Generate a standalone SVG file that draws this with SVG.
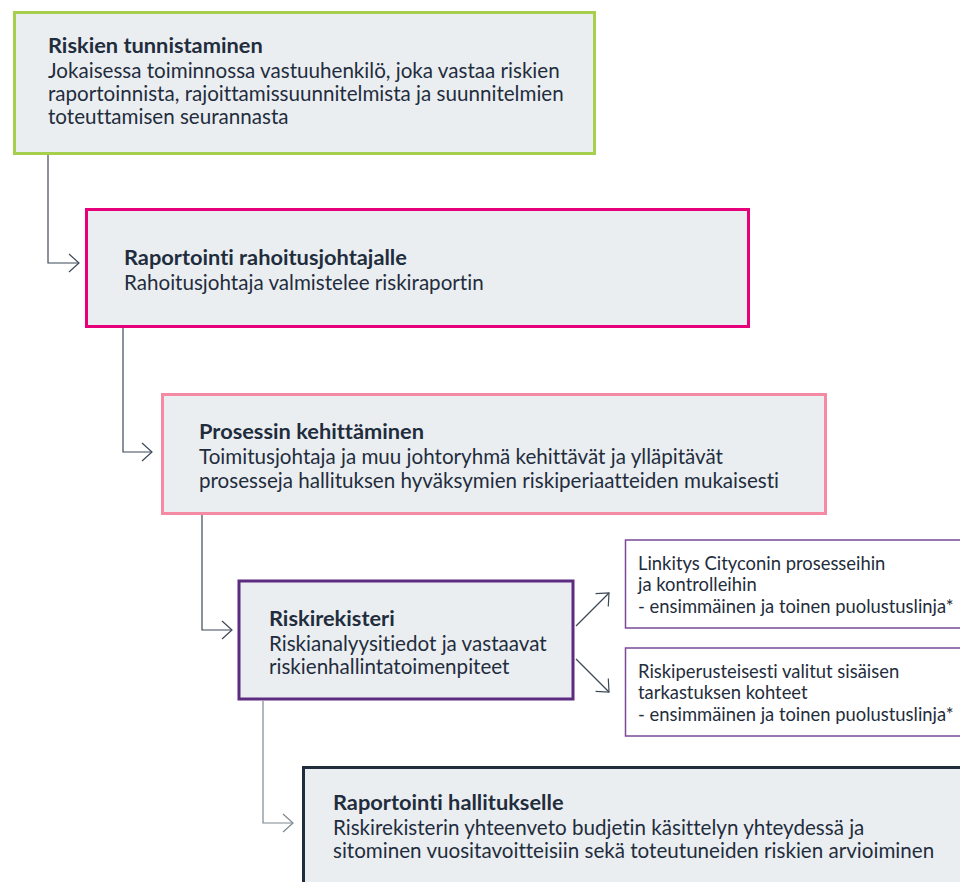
<svg xmlns="http://www.w3.org/2000/svg" width="960" height="882" viewBox="0 0 960 882">
<style>
.box{fill:#ebeef1}
.t{font-family:Lato,"Noto Sans",sans-serif;fill:#1f2d3d;font-variant-ligatures:none;font-feature-settings:"liga" 0,"dlig" 0}
.h{font-weight:bold;font-size:21.8px}
.b{font-size:20.6px}
.s{font-size:18.4px}
.c{fill:none;stroke:#3d4957;stroke-width:1.2}
</style>
<defs>
<marker id="ar" viewBox="0 0 12 20" refX="11" refY="10" markerWidth="12" markerHeight="20" markerUnits="userSpaceOnUse" orient="auto">
<path d="M1 1 L11 10 L1 19" fill="none" stroke="#3d4957" stroke-width="1.2"/>
</marker>
<marker id="ar2" viewBox="0 0 12 20" refX="11" refY="10" markerWidth="12" markerHeight="20" markerUnits="userSpaceOnUse" orient="auto">
<path d="M1 1 L11 10 L1 19" fill="none" stroke="#7d8790" stroke-width="1.2"/>
</marker>
</defs>
<g id="connectors">
<path class="c" d="M48 155 V263 H79" marker-end="url(#ar)"/>
<path class="c" d="M123 328 V452 H152" marker-end="url(#ar)"/>
<path class="c" d="M202 515 V630 H232" marker-end="url(#ar)"/>
<path class="c" d="M576 626 L609 593" marker-end="url(#ar)"/>
<path class="c" d="M576 659 L609 692" marker-end="url(#ar)"/>
<path class="c" style="stroke:#7d8790" d="M263 701 V823 H293" marker-end="url(#ar2)"/>
</g>
<g id="n1">
<rect class="box" x="14.5" y="12.5" width="580" height="141" stroke="#a5cf4c" stroke-width="3"/>
<text class="t h" x="48" y="53">Riskien tunnistaminen</text>
<text class="t b" x="48" y="78">Jokaisessa toiminnossa vastuuhenkilö, joka vastaa riskien</text>
<text class="t b" x="48" y="101">raportoinnista, rajoittamissuunnitelmista ja suunnitelmien</text>
<text class="t b" x="48" y="124">toteuttamisen seurannasta</text>
</g>
<g id="n2">
<rect class="box" x="86.5" y="209.5" width="662" height="117" stroke="#e6007a" stroke-width="3"/>
<text class="t h" x="124" y="265">Raportointi rahoitusjohtajalle</text>
<text class="t b" x="124" y="290">Rahoitusjohtaja valmistelee riskiraportin</text>
</g>
<g id="n3">
<rect class="box" x="162.5" y="394.5" width="663" height="119" stroke="#f48aa4" stroke-width="3"/>
<text class="t h" x="199" y="439">Prosessin kehittäminen</text>
<text class="t b" x="199" y="464">Toimitusjohtaja ja muu johtoryhmä kehittävät ja ylläpitävät</text>
<text class="t b" x="199" y="488">prosesseja hallituksen hyväksymien riskiperiaatteiden mukaisesti</text>
</g>
<g id="n4">
<rect class="box" x="239" y="581" width="334" height="118" stroke="#5d2b81" stroke-width="3"/>
<text class="t h" x="269" y="626">Riskirekisteri</text>
<text class="t b" x="269" y="651">Riskianalyysitiedot ja vastaavat</text>
<text class="t b" x="269" y="674">riskienhallintatoimenpiteet</text>
</g>
<g id="n5">
<rect x="625.5" y="540" width="340" height="88" fill="#fff" stroke="#7a4a96" stroke-width="1.5"/>
<text class="t s" x="638" y="570">Linkitys Cityconin prosesseihin</text>
<text class="t s" x="638" y="591">ja kontrolleihin</text>
<text class="t s" x="638" y="613">- ensimmäinen ja toinen puolustuslinja*</text>
</g>
<g id="n6">
<rect x="625.5" y="648" width="340" height="88" fill="#fff" stroke="#7a4a96" stroke-width="1.5"/>
<text class="t s" x="638" y="678">Riskiperusteisesti valitut sisäisen</text>
<text class="t s" x="638" y="699">tarkastuksen kohteet</text>
<text class="t s" x="638" y="721">- ensimmäinen ja toinen puolustuslinja*</text>
</g>
<g id="n7">
<rect class="box" x="303.5" y="767.5" width="680" height="140" stroke="#1f2d3d" stroke-width="3"/>
<text class="t h" x="333" y="810">Raportointi hallitukselle</text>
<text class="t b" x="333" y="835">Riskirekisterin yhteenveto budjetin käsittelyn yhteydessä ja</text>
<text class="t b" x="333" y="858">sitominen vuositavoitteisiin sekä toteutuneiden riskien arvioiminen</text>
</g>
</svg>
